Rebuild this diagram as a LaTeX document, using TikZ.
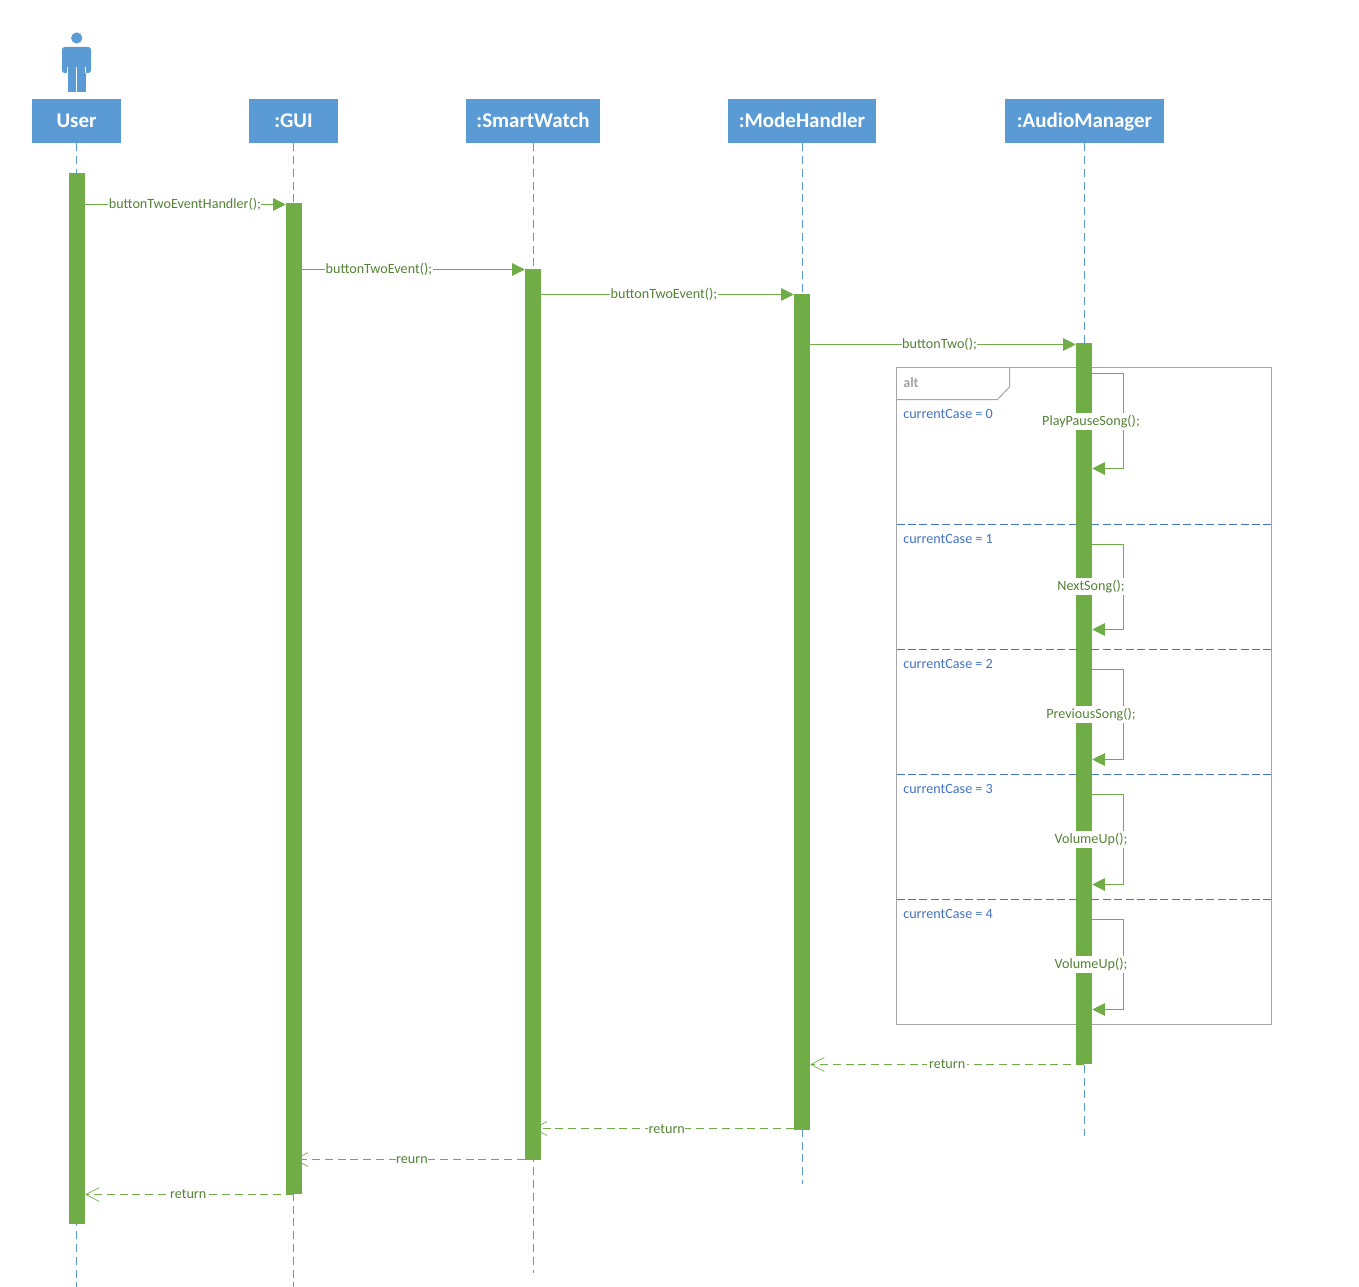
\documentclass[tikz,border=0pt]{standalone}
\usepackage{fontspec}
\setmainfont{Carlito}
\usetikzlibrary{arrows.meta,calc}
\definecolor{hdr}{HTML}{5B9BD5}
\definecolor{grn}{HTML}{70AD47}
\definecolor{gtxt}{HTML}{548235}
\definecolor{bluet}{HTML}{4472C4}
\definecolor{frm}{HTML}{A5A5A5}
\tikzset{
  header/.style={fill=hdr,text=white,font=\fontsize{15.7}{18}\selectfont\bfseries,minimum height=33pt,inner sep=0pt,anchor=center,text height=12pt,text depth=2pt},
  lifeline/.style={draw=hdr,line width=0.75pt,dash pattern=on 6pt off 3.6pt},
  activation/.style={fill=grn,minimum width=12pt,inner sep=0pt,anchor=north},
  msg/.style={draw=grn,line width=0.75pt,-{Triangle[length=9.5pt,width=9.5pt]}},
  retmsg/.style={draw=grn,line width=0.75pt,dash pattern=on 6pt off 3.6pt,-{Straight Barb[length=10pt,width=10.5pt,line width=0.5pt]}},
  lbl/.style={fill=white,text=gtxt,font=\fontsize{10.6}{12}\selectfont,inner xsep=0.3pt,inner ysep=0pt,text height=9.6pt,text depth=3.6pt},
  guard/.style={text=bluet,font=\fontsize{10.6}{12}\selectfont,inner sep=0pt,anchor=west},
  frameline/.style={draw=frm,line width=0.75pt},
  divider/.style={draw=bluet,line width=0.75pt,dash pattern=on 6pt off 2.6pt},
}
\begin{document}
\begin{tikzpicture}[x=0.75pt,y=-0.75pt]
\useasboundingbox[fill=white] (0,0) rectangle (1359,1287);
% lifelines
\node[header,minimum width=66.75pt] (user) at (76.5,121) {User};
\node[header,minimum width=66.75pt] (gui) at (293.5,121) {:GUI};
\node[header,minimum width=100.5pt] (sw) at (533,121) {:SmartWatch};
\node[header,minimum width=111pt] (mh) at (802,121) {:ModeHandler};
\node[header,minimum width=119.25pt] (am) at (1084.5,121) {:AudioManager};
\coordinate (userend) at (76,1287);
\coordinate (guiend) at (293.5,1287);
\coordinate (swend) at (533,1273);
\coordinate (mhend) at (802,1184);
\coordinate (amend) at (1084,1136);
\draw[lifeline] (user.south -| userend) -- (userend);
\draw[lifeline] (gui.south) -- (guiend);
\draw[lifeline] (sw.south) -- (swend);
\draw[lifeline] (mh.south) -- (mhend);
\draw[lifeline] (am.south -| amend) -- (amend);
% actor
\fill[hdr] (76.7,38) circle[radius=5.6];
\fill[hdr,rounded corners=2pt] (62,73) -- (62,47) -- (91,47) -- (91,73) -- cycle;
\fill[hdr] (67.5,60) rectangle (85.5,92);
\fill[white] (67,67) rectangle (67.7,73.5);
\fill[white] (85.4,67) rectangle (86.1,73.5);
\fill[white] (76.2,67) rectangle (76.9,92);
% frame
\draw[frameline] (896.5,367.5) rectangle (1271.5,1024.5);
\coordinate (tabA) at (1009.5,367.5);
\coordinate (tabB) at (1009.5,387);
\coordinate (tabC) at (997.5,399.5);
\coordinate (tabD) at (896.5,399.5);
\draw[frameline] (tabA) -- (tabB) -- (tabC) -- (tabD);
\node[text=frm,font=\fontsize{10.6}{12}\selectfont\bfseries,inner sep=0pt,anchor=west] (alt) at (903,382.5) {alt};
\foreach \n/\yy in {d1/524.5,d2/649.5,d3/774.5,d4/899.5}{
  \coordinate (\n a) at (896.5,\yy);
  \coordinate (\n b) at (1271.5,\yy);
  \draw[divider] (\n a) -- (\n b);
}
\node[guard] (g0) at (903,414) {currentCase = 0};
\node[guard] (g1) at (903,539) {currentCase = 1};
\node[guard] (g2) at (903,664) {currentCase = 2};
\node[guard] (g3) at (903,789) {currentCase = 3};
\node[guard] (g4) at (903,914) {currentCase = 4};
% activation bars
\node[activation,minimum height=788.25pt] (buser) at (77,173) {};
\node[activation,minimum height=743.25pt] (bgui) at (294,203) {};
\node[activation,minimum height=668.25pt] (bsw) at (533,269) {};
\node[activation,minimum height=627pt] (bmh) at (802,294) {};
\node[activation,minimum height=540.75pt] (bam) at (1084,343) {};
% calls
\draw[msg] (buser.east |- 0,204.5) -- node[lbl,pos=0.497]{buttonTwoEventHandler();} (bgui.west |- 0,204.5);
\draw[msg] (bgui.center |- 0,269.5) -- node[lbl,pos=0.368]{buttonTwoEvent();} (bsw.west |- 0,269.5);
\draw[msg] (bsw.east |- 0,294.5) -- node[lbl,pos=0.486,yshift=-0.3pt]{buttonTwoEvent();} (bmh.west |- 0,294.5);
\draw[msg] (bmh.east |- 0,344.5) -- node[lbl,pos=0.487]{buttonTwo();} (bam.west |- 0,344.5);
% self calls
\foreach \n/\ya/\yb/\yt/\txt in {s0/373.5/468.5/421.5/PlayPauseSong();, s1/544.5/629.5/586.5/NextSong();, s2/669.5/759.5/714.5/PreviousSong();, s3/794.5/884.5/839.5/VolumeUp();, s4/919.5/1009.5/964.5/VolumeUp();}{
  \coordinate (\n a) at (1123.5,\ya);
  \coordinate (\n b) at (1123.5,\yb);
  \draw[msg] (bam.east |- \n a) -- (\n a) -- (\n b) -- (bam.east |- \n b);
  \node[lbl] (\n t) at (1091,\yt) {\txt};
}
% returns
\draw[retmsg] (bam.center |- 0,1064.5) -- node[lbl,pos=0.5,inner xsep=1.5pt]{return} (bmh.east |- 0,1064.5);
\draw[retmsg] (bmh.west |- 0,1128.5) -- node[lbl,pos=0.487,yshift=-0.4pt]{return} (bsw.center |- 0,1128.5);
\draw[retmsg] (bsw.west |- 0,1159.5) -- node[lbl,pos=0.489]{reurn} (bgui.center |- 0,1159.5);
\draw[retmsg] (bgui.center |- 0,1194.5) -- node[lbl,pos=0.507]{return} (buser.east |- 0,1194.5);
\end{tikzpicture}
\end{document}
